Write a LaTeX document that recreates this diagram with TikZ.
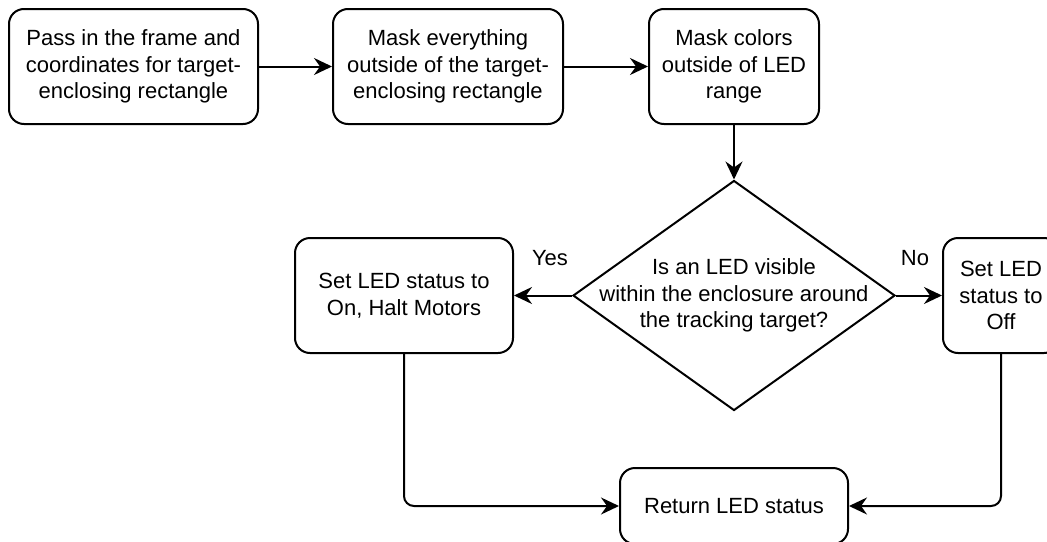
\documentclass[tikz,border=0pt]{standalone}
\usepackage{fontspec}
\setmainfont{Liberation Sans}
\usetikzlibrary{arrows.meta,shapes.geometric}
\begin{document}
\begin{tikzpicture}[x=1pt,y=-1pt,
  font=\fontsize{22}{26.7}\selectfont,
  box/.style={draw, line width=2pt, rounded corners=15pt, align=center, inner sep=0pt, minimum height=115pt},
  decision/.style={draw, diamond, line width=2pt, inner sep=0pt},
  arr/.style={line width=2pt, -{Stealth[length=18pt,width=17pt,inset=6pt]}},
  elbow/.style={arr, rounded corners=10pt},
  lbl/.style={inner sep=0pt}]
\useasboundingbox (0,0) rectangle (1047,541);
\clip (0,0) rectangle (1047,541);

\node[box, minimum width=249pt] (b1) at (133.5,66.5) {Pass in the frame and\\coordinates for target-\\enclosing rectangle};
\node[box, minimum width=230pt] (b2) at (448,66.5) {Mask everything\\outside of the target-\\enclosing rectangle};
\node[box, minimum width=170pt] (b3) at (734,66.5) {Mask colors\\outside of LED\\range};
\node[decision, minimum width=322pt, minimum height=230pt] (dec) at (734,295.5) {};
\node[lbl, align=center] (dectext) at (dec.center) {Is an LED visible\\within the enclosure around\\the tracking target?};
\node[box, minimum width=218pt] (lbox) at (404,295.5) {Set LED status to\\On, Halt Motors};
\node[box, minimum width=116pt] (rbox) at (1001,295.5) {Set LED\\status to\\Off};
\node[box, minimum width=228pt, minimum height=76pt] (ret) at (734,506) {Return LED status};

\node[lbl] (yes) at (550,258) {Yes};
\node[lbl] (no) at (915,258) {No};

\draw[arr] (b1) -- (b2);
\draw[arr] (b2) -- (b3);
\draw[arr] (b3) -- (dec);
\draw[arr] (dec.west) -- (lbox.east);
\draw[arr] (dec.east) -- (rbox.west);
\draw[elbow] (lbox.south) |- (ret.west);
\draw[elbow] (rbox.south) |- (ret.east);
\end{tikzpicture}
\end{document}
